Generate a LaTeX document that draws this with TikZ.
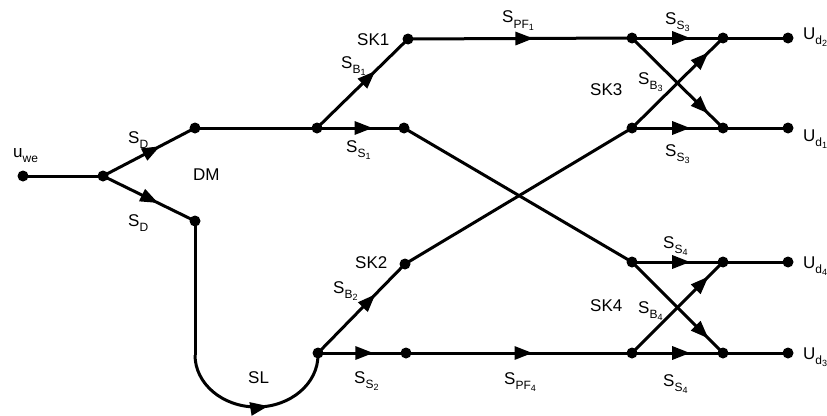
\documentclass[tikz,border=0pt]{standalone}
\usepackage{fontspec}
\setmainfont{Liberation Sans}
\usetikzlibrary{arrows.meta,decorations.markings}
\newcommand{\lo}[1]{\raisebox{-0.3em}{\fontsize{12}{12}\selectfont #1}}
\newcommand{\llo}[1]{\raisebox{-0.2em}{\fontsize{9}{9}\selectfont #1}}
\tikzset{
  dot/.style={circle,fill=black,inner sep=0pt,minimum size=11pt},
  conn/.style={line width=3pt,black},
  arrowat/.style={postaction={decorate},decoration={markings,mark=at position #1 with {\arrow{Triangle[length=18pt,width=13pt]}}}},
  lbl/.style={anchor=base west,inner sep=0pt,font=\fontsize{17}{20}\selectfont}
}
\begin{document}
\begin{tikzpicture}[x=1pt,y=-1pt]
\useasboundingbox (0,0) rectangle (827,415);
% dots
\node[dot] (uwe) at (23,176) {};
\node[dot] (A) at (103,176) {};
\node[dot] (dmt) at (195,128) {};
\node[dot] (dmb) at (195,221) {};
\node[dot] (B) at (317,128) {};
\node[dot] (C) at (404,128) {};
\node[dot] (sk1) at (408,39) {};
\node[dot] (D) at (632,38) {};
\node[dot] (E) at (723,38) {};
\node[dot] (G) at (632,128) {};
\node[dot] (F) at (723,128) {};
\node[dot] (ud2) at (788,38) {};
\node[dot] (ud1) at (788,128) {};
\node[dot] (I) at (318,353) {};
\node[dot] (sk2) at (405,264) {};
\node[dot] (J) at (406,353) {};
\node[dot] (H) at (632,262) {};
\node[dot] (K) at (723,262) {};
\node[dot] (L) at (632,353) {};
\node[dot] (M) at (723,353) {};
\node[dot] (ud4) at (788,262) {};
\node[dot] (ud3) at (788,353) {};
\coordinate (slA) at (195,355);
% connectors
\draw[conn] (uwe.center) -- (A.center);
\draw[conn,arrowat=0.62] (A.center) -- (dmt.center);
\draw[conn,arrowat=0.6] (A.center) -- (dmb.center);
\draw[conn] (dmt.center) -- (B.center);
\draw[conn,arrowat=0.64] (B.center) -- (sk1.center);
\draw[conn,arrowat=0.64] (B.center) -- (C.center);
\draw[conn,arrowat=0.56] (sk1.center) -- (D.center);
\draw[conn,arrowat=0.64] (D.center) -- (E.center);
\draw[conn,arrowat=0.84] (D.center) -- (F.center);
\draw[conn,arrowat=0.84] (G.center) -- (E.center);
\draw[conn,arrowat=0.64] (G.center) -- (F.center);
\draw[conn] (E.center) -- (ud2.center);
\draw[conn] (F.center) -- (ud1.center);
\draw[conn] (C.center) -- (H.center);
\draw[conn] (sk2.center) -- (G.center);
\draw[conn] (dmb.center) -- (slA);
\draw[conn,arrowat=0.56] (slA) arc[start angle=180,end angle=0,x radius=61.5,y radius=52] -- (I.center);
\draw[conn,arrowat=0.66] (I.center) -- (sk2.center);
\draw[conn,arrowat=0.63] (I.center) -- (J.center);
\draw[conn,arrowat=0.56] (J.center) -- (L.center);
\draw[conn,arrowat=0.64] (H.center) -- (K.center);
\draw[conn,arrowat=0.84] (H.center) -- (M.center);
\draw[conn,arrowat=0.84] (L.center) -- (K.center);
\draw[conn,arrowat=0.64] (L.center) -- (M.center);
\draw[conn] (K.center) -- (ud4.center);
\draw[conn] (M.center) -- (ud3.center);
% labels
\node[lbl] (t1) at (13,157.5) {u\lo{we}};
\node[lbl] (t2) at (128,143) {S\lo{D}};
\node[lbl] (t3) at (128,226) {S\lo{D}};
\node[lbl] (t4) at (193,180) {DM};
\node[lbl] (t5) at (357,45) {SK1};
\node[lbl] (t6) at (341,68) {S\lo{B\llo{1}}};
\node[lbl] (t7) at (346,152) {S\lo{S\llo{1}}};
\node[lbl] (t8) at (355,268) {SK2};
\node[lbl] (t9) at (333,293) {S\lo{B\llo{2}}};
\node[lbl] (t10) at (248,383) {SL};
\node[lbl] (t11) at (354,383) {S\lo{S\llo{2}}};
\node[lbl] (t12) at (502,23) {S\lo{PF\llo{1}}};
\node[lbl] (t13) at (665,24) {S\lo{S\llo{3}}};
\node[lbl] (t14) at (590,95) {SK3};
\node[lbl] (t15) at (638,84) {S\lo{B\llo{3}}};
\node[lbl] (t16) at (665,156) {S\lo{S\llo{3}}};
\node[lbl] (t17) at (803,39) {U\lo{d\llo{2}}};
\node[lbl] (t18) at (803,141) {U\lo{d\llo{1}}};
\node[lbl] (t19) at (663,248) {S\lo{S\llo{4}}};
\node[lbl] (t20) at (590,311) {SK4};
\node[lbl] (t21) at (638,313) {S\lo{B\llo{4}}};
\node[lbl] (t22) at (663,386) {S\lo{S\llo{4}}};
\node[lbl] (t23) at (504,384) {S\lo{PF\llo{4}}};
\node[lbl] (t24) at (803,268) {U\lo{d\llo{4}}};
\node[lbl] (t25) at (803,359) {U\lo{d\llo{3}}};
\end{tikzpicture}
\end{document}
